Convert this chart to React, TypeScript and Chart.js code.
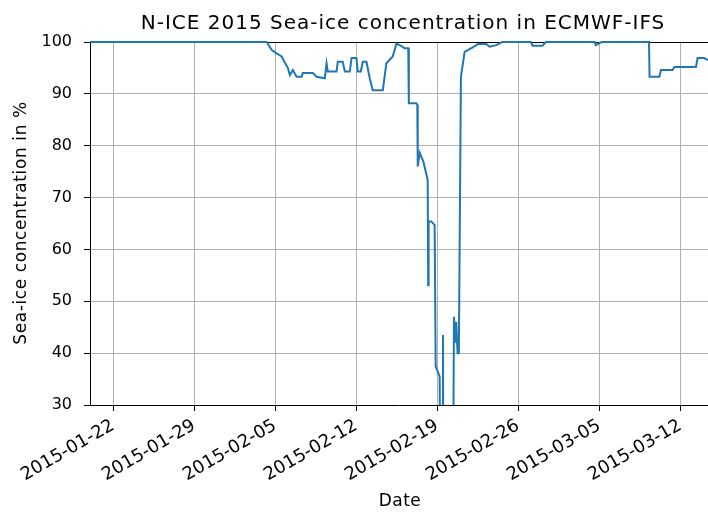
import React, { useEffect, useRef } from 'react';
import { Chart, registerables } from 'chart.js';

Chart.register(...registerables);

// x: day of year 2015 (0 = 2015-01-01), y: sea-ice concentration in %
const dayOfYear = [
  19.0, 34.26, 34.69, 35.12, 35.56, 35.84, 36.10, 36.27, 36.53, 36.85,
  37.28, 37.39, 38.26, 38.58, 39.29, 39.44, 39.55, 40.30, 40.41, 40.84,
  41.02, 41.45, 41.60, 42.02, 42.14, 42.40, 42.57, 42.89, 43.17, 43.43,
  44.30, 44.61, 45.16, 45.48, 45.91, 46.19, 46.50, 46.55, 47.20, 47.28,
  47.32, 47.49, 47.80, 48.18, 48.22, 48.26, 48.49, 48.78, 48.87, 49.21,
  49.30, 49.48, 49.50, 49.53, 50.36, 50.45, 50.60, 50.65, 50.76, 50.87,
  51.05, 51.37, 51.95, 52.52, 53.25, 53.53, 54.10, 54.60, 57.10, 57.24,
  58.10, 58.40, 62.60, 62.70, 63.20, 67.30, 67.35, 68.20, 68.34, 69.34,
  69.49, 71.36, 71.50, 72.07, 72.40,
];
const concentration = [
  100, 100, 98.5, 97.8, 97.2, 96.0, 95.0, 93.6, 94.6, 93.3,
  93.3, 94.0, 94.0, 93.3, 93.0, 95.9, 94.3, 94.3, 96.2, 96.2,
  94.3, 94.3, 96.9, 96.9, 94.3, 94.3, 96.2, 96.2, 93.0, 90.7,
  90.7, 95.9, 97.2, 99.7, 99.2, 98.8, 98.8, 88.2, 88.2, 87.9,
  76.0, 78.6, 77.0, 73.4, 53.1, 65.4, 65.4, 64.7, 37.4, 35.5,
  10, 10, 43.5, 10, 10, 47.0, 42.0, 46.0, 40.0, 40.0,
  93.3, 98.1, 98.8, 99.6, 99.6, 99.1, 99.4, 100, 100, 99.3,
  99.3, 100, 100, 99.4, 100, 100, 93.3, 93.3, 94.6, 94.6,
  95.2, 95.2, 96.9, 96.9, 96.5,
];
const xTickDays = [21, 28, 35, 42, 49, 56, 63, 70];
const yTickValues = [30, 40, 50, 60, 70, 80, 90, 100];
const chartTitle = 'N-ICE 2015 Sea-ice concentration in ECMWF-IFS';
const xLabel = 'Date';
const yLabel = 'Sea-ice concentration in %';

const FONT = "'DejaVu Sans', sans-serif";

function dayToLabel(d: number): string {
  const dt = new Date(Date.UTC(2015, 0, 1 + Math.round(d)));
  return dt.toISOString().slice(0, 10);
}

export default function App() {
  const ref = useRef<HTMLCanvasElement | null>(null);

  useEffect(() => {
    document.body.style.margin = '0';
    const canvas = ref.current;
    if (!canvas) return;

    const textPlugin = {
      id: 'texts',
      beforeDatasetsDraw(chart: any) {
        const ctx = chart.ctx;
        const a = chart.chartArea;
        ctx.save();
        ctx.strokeStyle = '#000';
        ctx.lineWidth = 1;
        ctx.beginPath();
        ctx.moveTo(a.left, a.top + 0.5);
        ctx.lineTo(a.right, a.top + 0.5);
        ctx.stroke();
        ctx.restore();
      },
      afterDraw(chart: any) {
        const ctx = chart.ctx;
        ctx.save();
        ctx.fillStyle = '#000';
        ctx.textAlign = 'center';
        ctx.textBaseline = 'alphabetic';
        ctx.font = `20px ${FONT}`;
        (ctx as any).letterSpacing = '1px';
        ctx.fillText(chartTitle, 403, 29);
        ctx.font = `17px ${FONT}`;
        (ctx as any).letterSpacing = '0.5px';
        ctx.fillText(xLabel, 400, 506);
        (ctx as any).letterSpacing = '0.6px';
        ctx.translate(26, 223);
        ctx.rotate(-Math.PI / 2);
        ctx.fillText(yLabel, 0, 0);
        ctx.restore();
      },
    };

    const chart = new Chart(canvas, {
      type: 'line',
      data: {
        datasets: [
          {
            data: dayOfYear.map((d, i) => ({ x: d, y: concentration[i] })),
            borderColor: '#1f77b4',
            borderWidth: 2,
            pointRadius: 0,
            tension: 0,
            fill: false,
            clip: { left: 0, top: 2, right: 0, bottom: 0 },
          },
        ],
      },
      options: {
        animation: false,
        responsive: false,
        events: [],
        layout: { padding: { top: 42, left: 0, right: 0, bottom: 0 } },
        plugins: {
          legend: { display: false },
          tooltip: { enabled: false },
          title: { display: false },
        },
        scales: {
          x: {
            type: 'linear',
            min: 19.0,
            max: 72.4,
            afterBuildTicks: (scale: any) => {
              scale.ticks = xTickDays.map((v) => ({ value: v }));
            },
            afterFit: (scale: any) => {
              scale.height = 107;
            },
            ticks: {
              autoSkip: false,
              minRotation: 30,
              maxRotation: 30,
              padding: 4,
              color: '#000',
              font: { family: FONT, size: 18 },
              callback: (v: any) => dayToLabel(Number(v)),
            },
            grid: {
              color: '#b0b0b0',
              lineWidth: 1,
              tickColor: '#000',
              tickLength: 6,
            },
            border: { display: true, color: '#000', width: 1 },
          },
          y: {
            type: 'linear',
            min: 30,
            max: 100,
            afterBuildTicks: (scale: any) => {
              scale.ticks = yTickValues.map((v) => ({ value: v }));
            },
            afterFit: (scale: any) => {
              scale.width = 90;
            },
            ticks: {
              padding: 12,
              color: '#000',
              font: { family: FONT, size: 16 },
            },
            grid: {
              color: '#b0b0b0',
              lineWidth: 1,
              tickColor: '#000',
              tickLength: 6,
            },
            border: { display: true, color: '#000', width: 1 },
          },
        },
      },
      plugins: [textPlugin],
    } as any);

    return () => chart.destroy();
  }, []);

  return (
    <canvas
      ref={ref}
      width={708}
      height={512}
      style={{ display: 'block', width: 708, height: 512 }}
    />
  );
}
